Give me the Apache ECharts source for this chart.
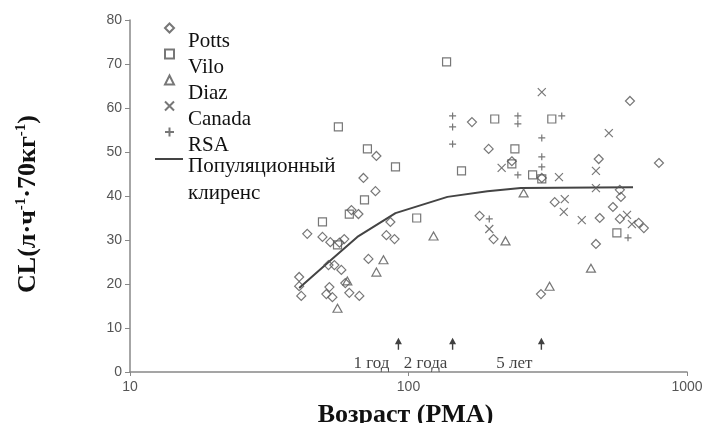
<!DOCTYPE html>
<html>
<head>
<meta charset="utf-8">
<script src="https://cdn.jsdelivr.net/npm/echarts@6/dist/echarts.min.js"></script>
<style>
  html, body { margin: 0; padding: 0; background: #fff; }
  #main { width: 706px; height: 423px; }
</style>
</head>
<body>
<div id="main"></div>
<script>
// CL (л·ч-1·70кг-1) vs возраст (PMA, недели), по исследованиям
const pottsData = [
  [43.3, 31.4], [49.1, 30.7], [52.4, 29.5], [58.8, 30.2], [51.6, 24.3], [54.2, 24.3],
  [57.4, 23.2], [40.5, 21.6], [40.5, 19.5], [41.2, 17.3], [52.0, 19.3], [50.7, 17.7],
  [53.3, 17.0], [59.3, 20.2], [61.3, 18.0], [66.6, 17.3], [71.8, 25.7], [86.1, 34.1],
  [83.3, 31.1], [89.1, 30.2], [66.1, 35.9], [62.4, 36.8], [76.1, 41.1], [76.7, 49.1],
  [68.9, 44.1], [56.5, 29.4], [169, 56.8], [194, 50.7], [235, 47.9], [301, 44.1],
  [180, 35.5], [202, 30.2], [299, 17.7], [335, 38.6], [624, 61.6], [482, 48.4],
  [793, 47.5], [574, 41.4], [579, 39.8], [542, 37.5], [486, 35.0], [574, 34.8],
  [671, 33.9], [700, 32.7], [471, 29.1]
];
const viloData = [
  [49.1, 34.1], [61.3, 35.9], [69.5, 39.1], [107, 35.0], [55.6, 28.9], [56.0, 55.7],
  [71.2, 50.7], [89.8, 46.6], [137, 70.5], [204, 57.5], [327, 57.5], [241, 50.7],
  [235, 47.3], [155, 45.7], [279, 44.8], [301, 43.9], [560, 31.6]
];
const diazData = [
  [81.3, 25.5], [76.7, 22.7], [55.6, 14.5], [60.3, 20.7], [123, 30.9], [223, 29.8],
  [321, 19.5], [259, 40.7], [452, 23.6]
];
const canadaData = [
  [301, 63.6], [216, 46.4], [347, 44.3], [195, 32.5], [364, 39.3], [361, 36.4],
  [524, 54.3], [471, 45.7], [471, 41.8], [419, 34.5], [609, 35.7], [634, 33.6]
];
const rsaData = [
  [144, 58.2], [144, 55.7], [144, 51.8], [247, 58.2], [247, 56.4], [355, 58.2],
  [301, 53.2], [301, 48.9], [301, 46.6], [247, 44.8], [195, 34.8], [614, 30.5]
];
const popClearance = [
  [40.5, 19.1], [51.2, 24.8], [65.5, 30.7], [89.8, 36.1], [138, 39.8],
  [192, 41.1], [253, 41.8], [640, 42.0]
];
const milestoneAges = [92, 144, 300];
const milestoneLabels = ['1 год', '2 года', '5 лет'];
const milestoneY = 6.4;
const yTicks = [0, 80, 10];
const lineName = 'Популяционный\nклиренс';

const serif = 'Liberation Serif';
const markColor = '#555';

function scatter(name, data, symbol, size) {
  return {
    name: name,
    type: 'scatter',
    data: data,
    symbol: symbol,
    symbolSize: size,
    itemStyle: { color: 'rgba(0,0,0,0)', borderColor: markColor, borderWidth: 1.2 }
  };
}

const chart = echarts.init(document.getElementById('main'));

chart.setOption({
  animation: false,
  grid: { left: 130, right: 19, top: 20, bottom: 51, outerBoundsMode: 'none' },
  legend: [
    {
      data: ['Potts', 'Vilo', 'Diaz', 'Canada', 'RSA'],
      orient: 'vertical',
      left: 164,
      top: 4,
      padding: 0,
      itemWidth: 9,
      itemHeight: 9,
      itemGap: -22,
      selectedMode: false,
      formatter: name => '{t|' + name + '}',
      textStyle: {
        rich: {
          t: { fontFamily: serif, fontSize: 21, color: '#111', lineHeight: 20, padding: [27, 0, 0, 9] }
        }
      }
    },
    {
      data: [{ name: lineName, icon: 'rect' }],
      orient: 'vertical',
      left: 155,
      top: 127,
      padding: 0,
      itemWidth: 28,
      itemHeight: 2,
      selectedMode: false,
      formatter: name => {
        const parts = name.split('\n');
        return '{p| }\n{a|' + parts[0] + '}\n{a|' + parts[1] + '}';
      },
      textStyle: {
        rich: {
          p: { fontSize: 10, lineHeight: 41 },
          a: { fontFamily: serif, fontSize: 21, color: '#111', lineHeight: 27 }
        }
      }
    }
  ],
  xAxis: {
    type: 'log',
    logBase: 10,
    min: 10,
    max: 1000,
    name: 'Возраст (PMA)',
    nameLocation: 'middle',
    nameGap: 30,
    nameTextStyle: { fontFamily: serif, fontSize: 26, fontWeight: 'bold', color: '#111', padding: [0, 6, 0, 0] },
    axisLine: { lineStyle: { color: '#888', width: 1.5 } },
    axisTick: { length: 4, lineStyle: { color: '#888' } },
    axisLabel: { color: '#555', fontSize: 14, fontFamily: 'Liberation Sans', margin: 8, formatter: v => String(v) },
    splitLine: { show: false },
    minorTick: { show: false }
  },
  yAxis: {
    type: 'value',
    min: yTicks[0],
    max: yTicks[1],
    interval: yTicks[2],
    name: '{b|CL(л·ч}{s|-1}{b|·70кг}{s|-1}{b|)}',
    nameLocation: 'middle',
    nameGap: 88,
    nameTextStyle: {
      padding: [0, 16, 0, 0],
      rich: {
        b: { fontFamily: serif, fontSize: 26, fontWeight: 'bold', color: '#111', lineHeight: 28 },
        s: { fontFamily: serif, fontSize: 15, fontWeight: 'bold', color: '#111', verticalAlign: 'top', lineHeight: 28 }
      }
    },
    axisLine: { show: true, lineStyle: { color: '#888', width: 1.5 } },
    axisTick: { show: true, length: 5, lineStyle: { color: '#888' } },
    axisLabel: { color: '#555', fontSize: 14, fontFamily: 'Liberation Sans', margin: 8 },
    splitLine: { show: false }
  },
  series: [
    scatter('Potts', pottsData, 'diamond', 9),
    scatter('Vilo', viloData, 'rect', 8),
    scatter('Diaz', diazData, 'triangle', [9, 8]),
    scatter('Canada', canadaData, 'path://M0,0L10,10M10,0L0,10', 8),
    scatter('RSA', rsaData, 'path://M5,0L5,10M0,5L10,5', 7),
    {
      name: lineName,
      type: 'line',
      data: popClearance,
      symbol: 'none',
      lineStyle: { color: '#444', width: 2 },
      itemStyle: { color: '#444' },
      z: 1
    },
    {
      name: 'milestones',
      type: 'scatter',
      data: milestoneAges.map((a, i) => ({ value: [a, milestoneY], name: milestoneLabels[i] })),
      symbol: 'path://M5,0L10,7L6,7L6,13L4,13L4,7L0,7Z',
      symbolSize: [7, 12],
      itemStyle: { color: '#111' },
      label: {
        show: true,
        position: 'bottom',
        distance: 5,
        offset: [-27, 0],
        formatter: p => p.name,
        fontFamily: serif,
        fontSize: 17,
        color: '#111'
      }
    }
  ]
});
</script>
</body>
</html>
